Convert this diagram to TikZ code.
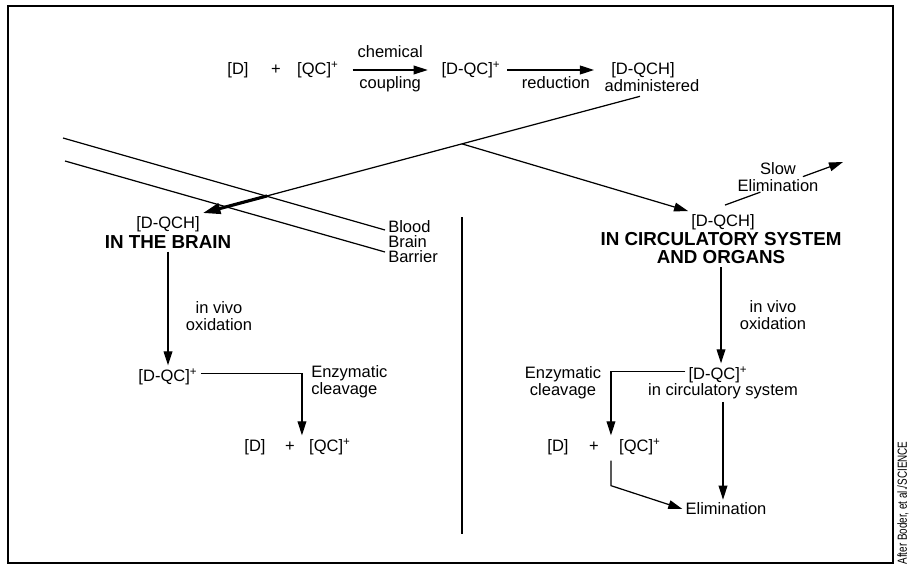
\documentclass[tikz,border=0pt]{standalone}
\usepackage{fontspec}
\setmainfont{Liberation Sans}
\usetikzlibrary{arrows.meta,calc,positioning}

\begin{document}
\begin{tikzpicture}[
    x=0.02cm, y=-0.02cm,
    line width=0.7pt,
    lbl/.style={font=\fontsize{9.4}{9.6}\selectfont, inner sep=1.5pt, align=center},
    hdr/.style={font=\fontsize{10.7}{10.4}\selectfont\bfseries, inner sep=1.5pt, align=center},
    arr/.style={-{Triangle[length=8pt,width=5pt]}},
    bigarr/.style={-{Triangle[length=10pt,width=6pt]}, line width=1.8pt}
  ]
  \useasboundingbox (0,0) rectangle (911,574);
  \draw (8,6) rectangle (893,563);

  % synthesis
  \node[lbl] (d0) at (238,70) {[D]};
  \node[lbl] (plus0) at (276,70) {+};
  \node[lbl] (qc0) at (318,70) {[QC]\textsuperscript{+}};
  \node[lbl] (dqc0) at (471,70) {[D-QC]\textsuperscript{+}};
  \node[lbl] (dqch0) at (643,70) {[D-QCH]};
  \node[lbl] (admin) at (652,86) {administered};
  \draw[arr, shorten <=6pt, shorten >=6pt] (qc0) -- node[lbl, above=5pt] {chemical} node[lbl, below=2pt] {coupling} (dqc0);
  \draw[arr, shorten <=2pt, shorten >=8pt] (dqc0) -- node[lbl, below=2pt] {reduction} (dqch0);

  % blood brain barrier
  \node[lbl, anchor=west] (blood) at (385,227) {Blood};
  \node[lbl, anchor=west] (brainlbl) at (385,242) {Brain};
  \node[lbl, anchor=west] (barrier) at (385,257) {Barrier};
  \coordinate (bbbA) at (63,138);
  \coordinate (bbbB) at (65,161);
  \draw (bbbA) -- ($(blood.west)+(0,3)$);
  \draw (bbbB) -- ($(barrier.west)+(0,-5)$);

  % brain side
  \node[lbl] (dqchB) at (168,224) {[D-QCH]};
  \node[hdr] (brainT) at (168,242) {IN THE BRAIN};
  \node[lbl] (oxB) at (219,316) {in vivo\\oxidation};
  \node[lbl] (dqcB) at (168,377) {[D-QC]\textsuperscript{+}};
  \node[lbl, anchor=west, align=left] (enzB) at (308,382) {Enzymatic\\cleavage};
  \node[lbl] (dB) at (255,447) {[D]};
  \node[lbl] (plusB) at (290,447) {+};
  \node[lbl] (qcB) at (330,447) {[QC]\textsuperscript{+}};

  % circulation side
  \node[lbl] (dqchC) at (723,222) {[D-QCH]};
  \node[hdr] (circ) at (721,248) {IN CIRCULATORY SYSTEM\\AND ORGANS};
  \node[lbl] (oxC) at (773,315) {in vivo\\oxidation};
  \node[lbl] (dqcC) at (718,375) {[D-QC]\textsuperscript{+}};
  \node[lbl] (circsys) at (723,391) {in circulatory system};
  \node[lbl] (enzC) at (563,383) {Enzymatic\\cleavage};
  \node[lbl] (dC) at (558,447) {[D]};
  \node[lbl] (plusC) at (594,447) {+};
  \node[lbl] (qcC) at (640,447) {[QC]\textsuperscript{+}};
  \node[lbl] (elim) at (726,509) {Elimination};

  % administered dose splits
  \coordinate (adm) at ($(admin.south)+(-12,1)$);
  \coordinate (split) at ($(adm)!0.4073!(dqchB.north east)$);
  \coordinate (bbbX) at ($(adm)!0.8535!(dqchB.north east)$);
  \draw (adm) -- (bbbX);
  \draw[bigarr] (bbbX) -- (dqchB.north east);
  \draw[arr] (split) -- (dqchC.north west);

  \node[lbl] (slow) at (778,177) {Slow\\Elimination};
  \coordinate (slowstart) at ($(dqchC.north)+(2,-6)$);
  \coordinate (slowend) at (843,162);
  \draw (slowstart) -- ($(slowstart)!0.3!(slowend)$);
  \draw[arr] ($(slowstart)!0.66!(slowend)$) -- (slowend);

  \draw[arr] (brainT) -- (dqcB);
  \draw[arr] ([yshift=2pt]dqcB.east) -| ($(qcB.north west)+(-4,0)$);

  \draw[arr] (circ.south) -- (circ.south |- dqcC.north);
  \draw[arr] ([yshift=2pt]dqcC.west) -| ($(qcC.north west)+(-5,0)$);
  \draw[arr] ($(qcC.south west)+(-5,2)$) -- ++(0,25) -- (elim.west);
  \draw[arr] (circsys.south) -- (circsys.south |- elim.north);

  \draw (462,217) -- (462,534);

  \node[rotate=90, font=\fontsize{7.5}{9}\selectfont, inner sep=0pt] (credit) at (903,503) {\scalebox{0.75}[1]{After Boder, et al./SCIENCE}};
\end{tikzpicture}
\end{document}
